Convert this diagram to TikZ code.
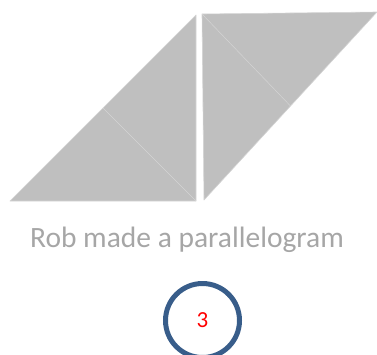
\documentclass[tikz,border=0pt]{standalone}
\usepackage{fontspec}
\setmainfont{Carlito}
\usetikzlibrary{positioning,calc}
\definecolor{rpiecefill}{HTML}{BFBFBF}
\definecolor{rpieceline}{HTML}{D4D4D4}
\definecolor{rcaption}{HTML}{A6A6A6}
\definecolor{rring}{HTML}{385D8A}
\tikzset{rpiece/.style={fill=rpiecefill, draw=rpieceline, line width=0.6pt, line join=round}}
\tikzset{rcrease/.style={draw=rpieceline, line width=0.5pt}}
\tikzset{rcap/.style={font=\fontsize{29.5}{34}\selectfont, text=rcaption, inner sep=0pt}}
\tikzset{rnum/.style={circle, draw=rring, line width=5pt, minimum size=74pt, inner sep=0pt, text=red, font=\fontsize{23}{26}\selectfont}}
\begin{document}
\begin{tikzpicture}[x=1pt, y=-1pt]
  \useasboundingbox (0,0) rectangle (377,354);

  % left half of the square, cut along the diagonal
  \coordinate (la) at (10,201);
  \coordinate (lb) at (196,15);
  \coordinate (lc) at (196,201);
  \coordinate (lm) at ($(la)!0.5!(lb)$);
  \draw[rpiece] (la) -- (lb) -- (lc) -- cycle;
  \draw[rcrease] (lm) -- (lc);

  % right half, turned over
  \coordinate (ra) at (202,14);
  \coordinate (rb) at (377,12);
  \coordinate (rc) at (204,200);
  \coordinate (rm) at ($(rb)!0.5!(rc)$);
  \draw[rpiece] (ra) -- (rb) -- (rc) -- cycle;
  \draw[rcrease] (ra) -- (rm);

  \node[rcap] (caption) at (187,240) {Rob made a parallelogram};

  \node[rnum] (step) at (202.5,320.5) {3};
\end{tikzpicture}
\end{document}
